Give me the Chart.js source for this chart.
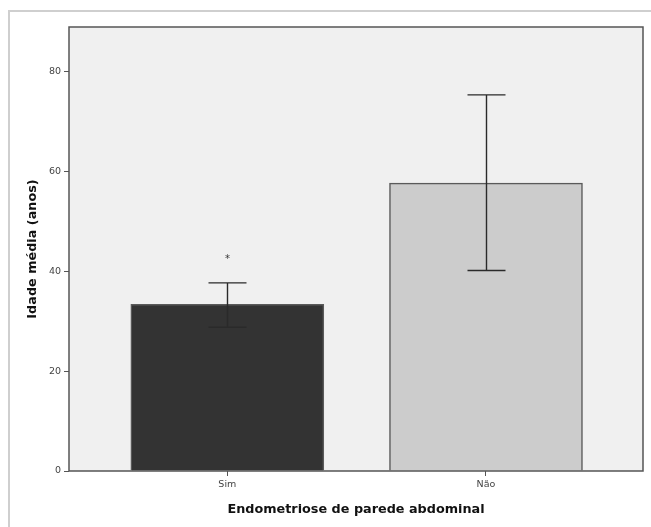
<!DOCTYPE html>
<html>
<head>
    <title>Idade média por endometriose de parede abdominal</title>
    <style>
        body { margin: 0; background: #fff; }
        canvas { display: block; }
    </style>
</head>
<body>
    <canvas id="ageChart" width="651" height="527"></canvas>

    <script src="https://cdn.jsdelivr.net/npm/chart.js"></script>
    <script>
        // values
        var categories = ['Sim', 'Não'];
        var meanAge = [33.4, 57.7];
        var ciLow = [28.8, 40.2];
        var ciHigh = [37.7, 75.4];
        var marks = ['*', ''];
        var markValue = [42.8, null];
        var yTicks = [0, 20, 40, 60, 80];
        var barColors = ['#333333', '#cccccc'];

        var outerBox = {
            id: 'outerBox',
            beforeDraw: function(chart) {
                var ctx = chart.ctx;
                var a = chart.chartArea;
                ctx.save();
                ctx.fillStyle = '#fff';
                ctx.fillRect(0, 0, chart.width, chart.height);
                // light frame round the whole output
                ctx.strokeStyle = '#cfcfcf';
                ctx.lineWidth = 2;
                ctx.strokeRect(9, 11, chart.width + 20, chart.height + 20);
                // plot background
                ctx.fillStyle = '#f0f0f0';
                ctx.fillRect(a.left, a.top, a.right - a.left, a.bottom - a.top);
                ctx.restore();
            },
            afterDatasetsDraw: function(chart) {
                var ctx = chart.ctx;
                var a = chart.chartArea;
                var xs = chart.scales.x, ys = chart.scales.y;
                ctx.save();
                // error bars
                ctx.strokeStyle = '#2a2a2a';
                ctx.lineWidth = 1.4;
                var cap = 19;
                for (var i = 0; i < categories.length; i++) {
                    var px = Math.round(xs.getPixelForValue(i)) + 0.5;
                    var lo = ys.getPixelForValue(ciLow[i]);
                    var hi = ys.getPixelForValue(ciHigh[i]);
                    ctx.beginPath();
                    ctx.moveTo(px, lo); ctx.lineTo(px, hi);
                    ctx.moveTo(px - cap, hi); ctx.lineTo(px + cap, hi);
                    ctx.moveTo(px - cap, lo); ctx.lineTo(px + cap, lo);
                    ctx.stroke();
                    if (marks[i]) {
                        ctx.fillStyle = '#333';
                        ctx.font = '10px "DejaVu Sans"';
                        ctx.textAlign = 'center';
                        ctx.textBaseline = 'middle';
                        ctx.fillText(marks[i], px, ys.getPixelForValue(markValue[i]) + 2);
                    }
                }
                // plot frame
                ctx.strokeStyle = '#555';
                ctx.lineWidth = 1.5;
                ctx.strokeRect(a.left, a.top, a.right - a.left, a.bottom - a.top);
                ctx.restore();
            }
        };

        var ctx = document.getElementById('ageChart').getContext('2d');
        new Chart(ctx, {
            type: 'bar',
            data: {
                datasets: [{
                    data: categories.map(function(c, i) { return { x: i, y: meanAge[i] }; }),
                    backgroundColor: barColors,
                    borderColor: '#5a5a5a',
                    borderWidth: 1.5,
                    barThickness: 193
                }]
            },
            options: {
                responsive: false,
                animation: false,
                layout: { padding: { top: 27, right: 8, bottom: 0, left: 0 } },
                plugins: {
                    legend: { display: false },
                    tooltip: { enabled: false }
                },
                scales: {
                    x: {
                        type: 'linear',
                        min: -0.612,
                        max: 1.607,
                        offset: false,
                        afterBuildTicks: function(scale) {
                            scale.ticks = categories.map(function(c, i) { return { value: i }; });
                        },
                        afterFit: function(scale) { scale.height = 56; },
                        border: { display: false },
                        grid: { offset: false, drawOnChartArea: false, drawTicks: true, tickLength: 5, tickColor: '#555' },
                        ticks: {
                            padding: 3,
                            color: '#444',
                            font: { family: 'DejaVu Sans', size: 9.5 },
                            callback: function(v) { return categories[v]; }
                        },
                        title: {
                            display: true,
                            text: 'Endometriose de parede abdominal',
                            color: '#111',
                            font: { family: 'DejaVu Sans', size: 12.8, weight: 'bold' },
                            padding: { top: 0, bottom: 10 }
                        }
                    },
                    y: {
                        min: 0,
                        max: 89,
                        afterBuildTicks: function(scale) {
                            scale.ticks = yTicks.map(function(v) { return { value: v }; });
                        },
                        afterFit: function(scale) { scale.width = 69; },
                        border: { display: false },
                        grid: { drawOnChartArea: false, drawTicks: true, tickLength: 5, tickColor: '#555' },
                        ticks: {
                            padding: 3,
                            color: '#444',
                            font: { family: 'DejaVu Sans', size: 9.5 }
                        },
                        title: {
                            display: true,
                            text: 'Idade média (anos)',
                            color: '#111',
                            font: { family: 'DejaVu Sans', size: 12.8, weight: 'bold' },
                            padding: { top: 25, bottom: 0 }
                        }
                    }
                }
            },
            plugins: [outerBox]
        });
    </script>
</body>
</html>
